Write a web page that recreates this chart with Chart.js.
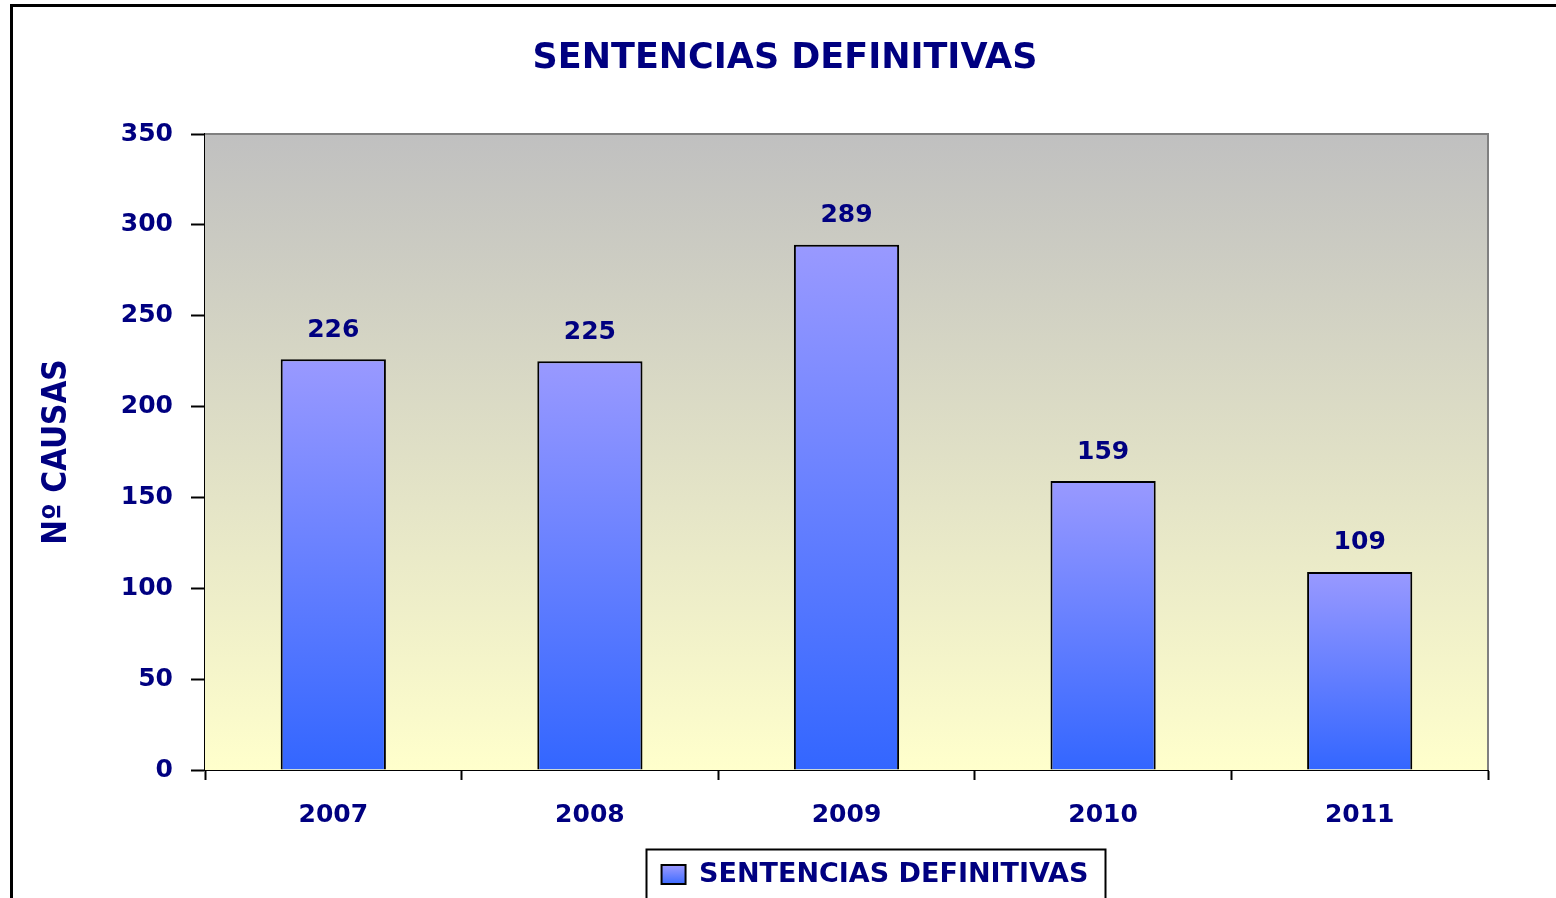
<!DOCTYPE html>
<html>
<head>
<meta charset="utf-8">
<script src="https://cdn.jsdelivr.net/npm/chart.js@4"></script>
<style>
  html, body { margin: 0; padding: 0; background: #fff; }
  #wrap { width: 1556px; height: 898px; }
</style>
</head>
<body>
<div id="wrap"><canvas id="sentenciasChart" width="1556" height="898"></canvas></div>
<script>
// datos
const years = ['2007', '2008', '2009', '2010', '2011'];
const sentencias = [226, 225, 289, 159, 109];
const yTicks = [0, 50, 100, 150, 200, 250, 300, 350];

const NAVY = '#000080';
const FONT = "'DejaVu Sans', Verdana, sans-serif";
const LEGEND_SIZE = 27;

// centra titulo y leyenda donde estan en el original
const shiftBlocks = {
    id: 'shiftBlocks',
    afterLayout(chart) {
        const tb = chart.titleBlock;
        if (tb) {
            const dx = 785 - (tb.left + tb.right) / 2;
            tb.left += dx;
            tb.right += dx;
        }
        const lg = chart.legend;
        if (lg) {
            const dx = 875 - (lg.left + lg.right) / 2;
            lg.left += dx;
            lg.right += dx;
        }
    }
};

// fondo degradado del area de trazado, bordes y marco exterior
const backgroundPlugin = {
    id: 'plotBackground',
    beforeDatasetsDraw(chart) {
        const { ctx, chartArea: a } = chart;
        const g = ctx.createLinearGradient(0, a.top, 0, a.bottom);
        g.addColorStop(0, '#c0c0c0');
        g.addColorStop(1, '#ffffcc');
        ctx.save();
        ctx.fillStyle = g;
        ctx.fillRect(a.left, a.top, a.right - a.left, a.bottom - a.top);
        ctx.strokeStyle = '#808080';
        ctx.lineWidth = 2;
        ctx.beginPath();
        ctx.moveTo(a.left, a.top);
        ctx.lineTo(a.right, a.top);
        ctx.lineTo(a.right, a.bottom);
        ctx.stroke();
        ctx.restore();
    },
    afterDraw(chart) {
        const { ctx } = chart;
        ctx.save();
        // marco exterior
        ctx.strokeStyle = '#000';
        ctx.lineWidth = 3;
        ctx.strokeRect(11.5, 5.5, 1600, 1000);
        // recuadro de la leyenda
        const lg = chart.legend;
        if (lg) {
            ctx.font = `bold ${LEGEND_SIZE}px ${FONT}`;
            const tw = ctx.measureText('SENTENCIAS DEFINITIVAS').width;
            const w = tw + 24 + LEGEND_SIZE / 2 + 32;
            const cx = (lg.left + lg.right) / 2;
            ctx.lineWidth = 2;
            ctx.strokeRect(Math.round(cx - w / 2) + 0.5, lg.top - 4.5, Math.round(w), 80);
        }
        ctx.restore();
    }
};

// etiquetas de valor encima de cada barra
const valueLabels = {
    id: 'valueLabels',
    afterDatasetsDraw(chart) {
        const { ctx } = chart;
        const meta = chart.getDatasetMeta(0);
        ctx.save();
        ctx.fillStyle = NAVY;
        ctx.font = `bold 25px ${FONT}`;
        ctx.textAlign = 'center';
        ctx.textBaseline = 'middle';
        meta.data.forEach((bar, i) => {
            ctx.fillText(String(sentencias[i]), bar.x, bar.y - 29);
        });
        ctx.restore();
    }
};

function barGradient(context) {
    const chart = context.chart;
    const y = chart.scales && chart.scales.y;
    if (!y || !chart.chartArea || context.dataIndex === undefined) return '#6680ff';
    const top = y.getPixelForValue(context.raw);
    const bottom = y.getPixelForValue(0);
    const g = chart.ctx.createLinearGradient(0, top, 0, bottom);
    g.addColorStop(0, '#9999ff');
    g.addColorStop(1, '#3366ff');
    return g;
}

function legendGradient(chart) {
    const g = chart.ctx.createLinearGradient(0, 866, 0, 886);
    g.addColorStop(0, '#9999ff');
    g.addColorStop(1, '#3366ff');
    return g;
}

const ctx = document.getElementById('sentenciasChart').getContext('2d');
new Chart(ctx, {
    type: 'bar',
    data: {
        labels: years,
        datasets: [{
            label: 'SENTENCIAS DEFINITIVAS',
            data: sentencias,
            backgroundColor: barGradient,
            borderColor: '#000',
            borderWidth: 2,
            borderSkipped: 'bottom',
            categoryPercentage: 1,
            barPercentage: 0.41
        }]
    },
    options: {
        responsive: false,
        animation: false,
        layout: { padding: { left: 0, right: 68, top: 0, bottom: 0 } },
        plugins: {
            title: {
                display: true,
                text: 'SENTENCIAS DEFINITIVAS',
                color: NAVY,
                font: { family: FONT, size: 35, weight: 'bold', lineHeight: 1.2 },
                padding: { top: 38, bottom: 54 }
            },
            legend: {
                position: 'bottom',
                labels: {
                    color: NAVY,
                    font: { family: FONT, size: LEGEND_SIZE, weight: 'bold' },
                    boxWidth: 24,
                    boxHeight: 19,
                    padding: 7,
                    generateLabels(chart) {
                        return [{
                            text: 'SENTENCIAS DEFINITIVAS',
                            fillStyle: legendGradient(chart),
                            strokeStyle: '#000',
                            lineWidth: 2,
                            fontColor: NAVY,
                            datasetIndex: 0
                        }];
                    }
                }
            },
            tooltip: { enabled: false }
        },
        scales: {
            x: {
                offset: true,
                grid: {
                    display: true,
                    offset: true,
                    drawOnChartArea: false,
                    drawTicks: true,
                    tickLength: 10,
                    tickWidth: 2,
                    tickColor: '#000'
                },
                border: { display: true, color: '#000', width: 2 },
                ticks: {
                    color: NAVY,
                    font: { family: FONT, size: 25, weight: 'bold' },
                    padding: 20,
                    maxRotation: 0
                },
                afterFit(scale) {
                    const lg = scale.chart.legend;
                    const lh = lg ? lg.height : 0;
                    scale.height = 898 - 770 - lh;
                }
            },
            y: {
                min: 0,
                max: 350,
                afterBuildTicks(scale) {
                    scale.ticks = yTicks.map(v => ({ value: v }));
                },
                grid: {
                    display: true,
                    drawOnChartArea: false,
                    drawTicks: true,
                    tickLength: 14,
                    tickWidth: 2,
                    tickColor: '#000'
                },
                border: { display: true, color: '#000', width: 2 },
                ticks: {
                    color: NAVY,
                    font: { family: FONT, size: 25, weight: 'bold' },
                    padding: 18
                },
                title: {
                    display: true,
                    text: 'Nº CAUSAS',
                    color: NAVY,
                    font: { family: "'Liberation Sans Narrow', 'DejaVu Sans Condensed', sans-serif", size: 33, weight: 'bold', lineHeight: 1.2 },
                    padding: { top: 38, bottom: 0 }
                },
                afterFit(scale) {
                    scale.width = 205;
                }
            }
        }
    },
    plugins: [shiftBlocks, backgroundPlugin, valueLabels]
});
</script>
</body>
</html>
